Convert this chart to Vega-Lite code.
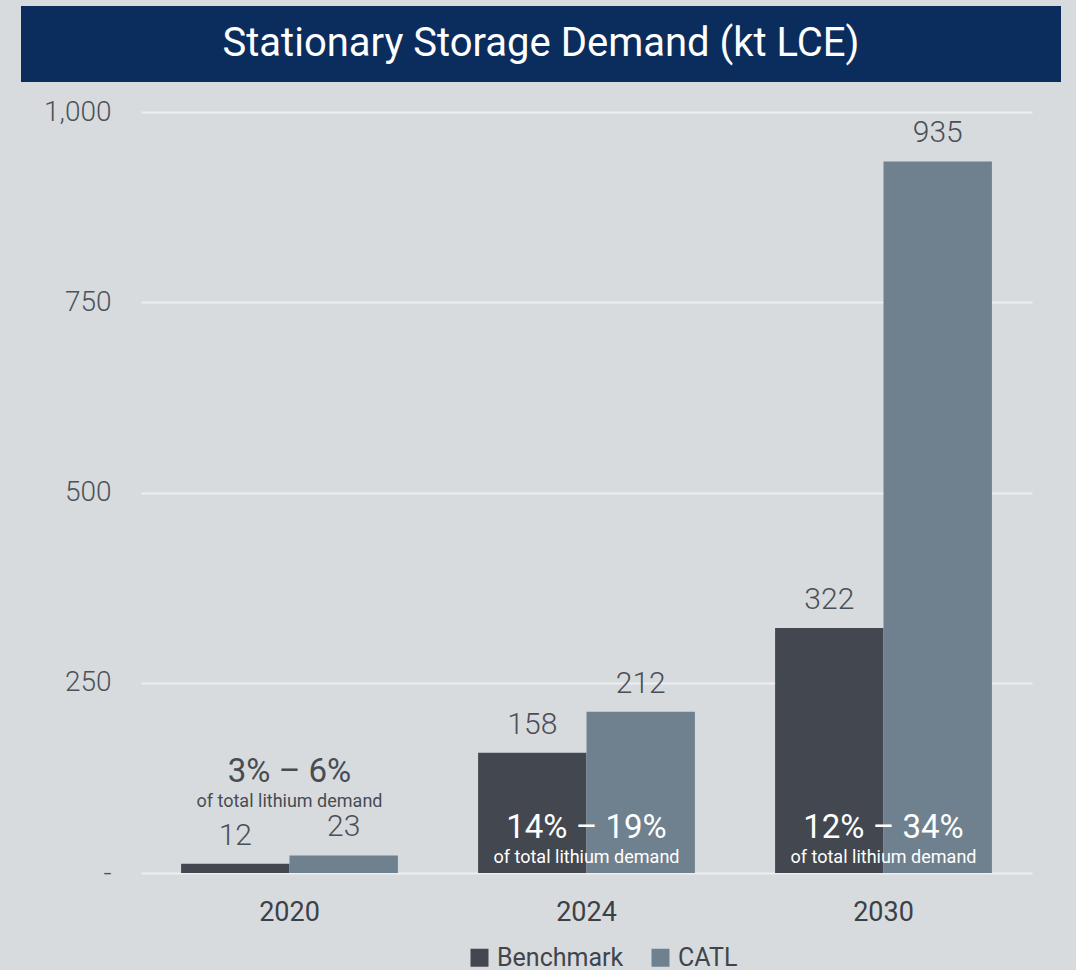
{
  "$schema": "https://vega.github.io/schema/vega-lite/v6.json",
  "background": "#d8dbde",
  "padding": {"left": 21, "top": 6, "right": 15, "bottom": 0},
  "spacing": 16,
  "config": {"view": {"stroke": null}, "font": "Roboto"},
  "vconcat": [
    {
      "width": 1040,
      "height": 76,
      "view": {"fill": "#0b2d5e", "stroke": null},
      "data": {"values": [{"title": "Stationary Storage Demand (kt LCE)"}]},
      "mark": {"type": "text", "color": "#ffffff", "fontSize": 40, "font": "Roboto", "fontWeight": 400, "baseline": "middle", "align": "center"},
      "encoding": {"text": {"field": "title"}}
    },
    {
      "width": 1040,
      "height": 761,
      "layer": [
        {
          "data": {"values": [
            {"year": "2020", "series": "Benchmark", "value": 12},
            {"year": "2020", "series": "CATL", "value": 23},
            {"year": "2024", "series": "Benchmark", "value": 158},
            {"year": "2024", "series": "CATL", "value": 212},
            {"year": "2030", "series": "Benchmark", "value": 322},
            {"year": "2030", "series": "CATL", "value": 935}
          ]},
          "layer": [
            {
              "mark": {"type": "bar"},
              "encoding": {
                "x": {"field": "year", "type": "nominal", "scale": {"range": [120, 1011], "paddingInner": 0.27, "paddingOuter": 0.135},
                  "axis": {"title": null, "domain": false, "ticks": false, "labelAngle": 0, "labelPadding": 26, "labelFontSize": 27, "labelFontWeight": 400, "labelColor": "#3c4148", "labelFont": "Roboto"}},
                "xOffset": {"field": "series", "type": "nominal"},
                "y": {"field": "value", "type": "quantitative", "scale": {"domain": [0, 1000]},
                  "axis": {"title": null, "values": [0, 250, 500, 750, 1000], "labelExpr": "datum.value == 0 ? '-' : format(datum.value, ',')", "domain": false, "ticks": false, "labelPadding": -90, "labelAlign": "right", "labelFontSize": 28, "labelFontWeight": 300, "labelColor": "#4d5259", "labelFont": "Roboto", "gridColor": "#eceef0", "gridWidth": 2}},
                "color": {"field": "series", "type": "nominal", "scale": {"domain": ["Benchmark", "CATL"], "range": ["#434850", "#6f818f"]},
                  "legend": {"title": null, "orient": "none", "legendX": 446, "legendY": 939, "padding": 0, "direction": "horizontal", "symbolType": "square", "symbolSize": 324, "symbolStrokeWidth": 0, "labelFontSize": 25, "labelColor": "#40454c", "labelFont": "Roboto", "labelOffset": 5, "columnPadding": 24}}
              }
            },
            {
              "mark": {"type": "text", "baseline": "alphabetic", "dy": -19, "fontSize": 30, "fontWeight": 300, "color": "#4a4f57", "font": "Roboto"},
              "encoding": {
                "x": {"field": "year", "type": "nominal"},
                "xOffset": {"field": "series", "type": "nominal"},
                "y": {"field": "value", "type": "quantitative"},
                "text": {"field": "value", "type": "quantitative"}
              }
            }
          ]
        },
        {
          "data": {"values": [
            {"year": "2020", "pct": "3% – 6%", "sub": "of total lithium demand", "inside": false},
            {"year": "2024", "pct": "14% – 19%", "sub": "of total lithium demand", "inside": true},
            {"year": "2030", "pct": "12% – 34%", "sub": "of total lithium demand", "inside": true}
          ]},
          "layer": [
            {
              "transform": [{"filter": "!datum.inside"}],
              "mark": {"type": "text", "baseline": "middle", "fontSize": 33, "fontWeight": 400, "color": "#474c54", "font": "Roboto"},
              "encoding": {"x": {"field": "year", "type": "nominal"}, "y": {"datum": 133, "type": "quantitative"}, "text": {"field": "pct"}}
            },
            {
              "transform": [{"filter": "!datum.inside"}],
              "mark": {"type": "text", "baseline": "middle", "fontSize": 18, "fontWeight": 400, "color": "#474c54", "font": "Roboto"},
              "encoding": {"x": {"field": "year", "type": "nominal"}, "y": {"datum": 93, "type": "quantitative"}, "text": {"field": "sub"}}
            },
            {
              "transform": [{"filter": "datum.inside"}],
              "mark": {"type": "text", "baseline": "middle", "fontSize": 33, "fontWeight": 400, "color": "#ffffff", "font": "Roboto"},
              "encoding": {"x": {"field": "year", "type": "nominal"}, "y": {"datum": 59, "type": "quantitative"}, "text": {"field": "pct"}}
            },
            {
              "transform": [{"filter": "datum.inside"}],
              "mark": {"type": "text", "baseline": "middle", "fontSize": 18, "fontWeight": 400, "color": "#ffffff", "font": "Roboto"},
              "encoding": {"x": {"field": "year", "type": "nominal"}, "y": {"datum": 20, "type": "quantitative"}, "text": {"field": "sub"}}
            }
          ]
        }
      ]
    }
  ]
}
